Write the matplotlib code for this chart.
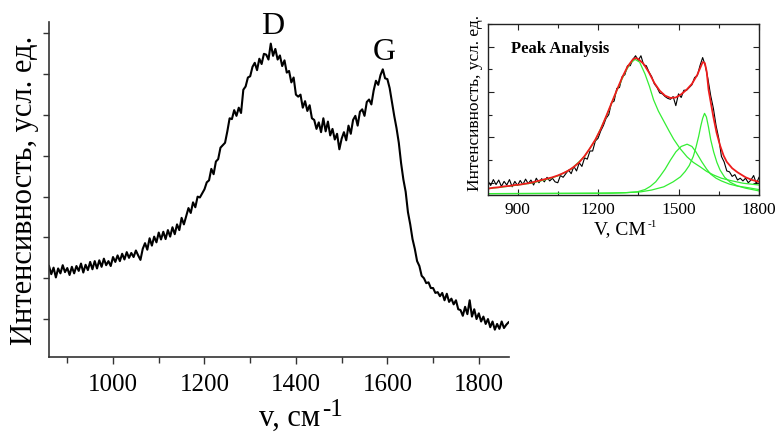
import numpy as np
import matplotlib
matplotlib.use("Agg")
import matplotlib.pyplot as plt
from matplotlib.ticker import MultipleLocator, FixedLocator

plt.rcParams['font.family'] = ['Liberation Serif', 'DejaVu Serif']

# ---------------- main spectrum ----------------
main_x = np.arange(860, 1870, 5)
main_y = [
    2.30, 2.10, 2.26, 2.02, 2.24, 2.12, 2.32, 2.15, 2.25, 2.08,
    2.28, 2.12, 2.30, 2.18, 2.36, 2.14, 2.33, 2.20, 2.40, 2.22,
    2.42, 2.24, 2.44, 2.28, 2.48, 2.32, 2.42, 2.30, 2.52, 2.40,
    2.56, 2.42, 2.60, 2.46, 2.64, 2.50, 2.62, 2.52, 2.68, 2.56,
    2.45, 2.72, 2.86, 2.70, 2.98, 2.80, 3.02, 2.88, 3.12, 2.95,
    3.14, 2.96, 3.18, 3.02, 3.25, 3.08, 3.32, 3.18, 3.48, 3.32,
    3.52, 3.72, 3.60, 3.86, 3.74, 4.00, 3.98, 4.08, 4.18, 4.35,
    4.40, 4.68, 4.55, 4.86, 4.92, 5.20, 5.26, 5.32, 5.60, 5.92,
    5.90, 6.12, 5.98, 6.18, 6.05, 6.62, 6.70, 6.92, 6.95, 7.18,
    7.28, 7.10, 7.38, 7.25, 7.50, 7.48, 7.36, 7.75, 7.45, 7.62,
    7.36, 7.46, 7.20, 7.34, 7.04, 7.08, 6.80, 6.92, 6.50, 6.45,
    6.50, 6.18, 6.34, 6.10, 6.24, 5.92, 5.88, 5.66, 5.82, 5.58,
    5.92, 5.60, 5.84, 5.50, 5.66, 5.40, 5.54, 5.16, 5.42, 5.58,
    5.38, 5.74, 5.54, 5.88, 5.98, 5.74, 6.08, 6.14, 5.98, 6.32,
    6.38, 6.26, 6.60, 6.84, 6.74, 6.98, 7.12, 6.90, 6.88, 6.66,
    6.32, 5.98, 5.68, 5.32, 4.82, 4.42, 4.12, 3.62, 3.32, 2.96,
    2.72, 2.42, 2.30, 2.06, 2.00, 1.88, 1.90, 1.76, 1.76, 1.64,
    1.66, 1.56, 1.64, 1.46, 1.62, 1.42, 1.50, 1.36, 1.46, 1.24,
    1.22, 1.08, 1.30, 1.12, 1.46, 1.06, 1.24, 1.00, 1.14, 0.94,
    1.06, 0.88, 1.00, 0.80, 0.94, 0.74, 0.88, 0.76, 0.94, 0.78, 0.86, 0.92,
]
main_xticks = [1000, 1200, 1400, 1600, 1800]
main_yticks = [1, 2, 3, 4, 5, 6, 7, 8]
peak_labels = ["D", "G"]
peak_label_x = [1349, 1594]
peak_label_y = [8.16, 7.54]

# ---------------- inset: peak analysis ----------------
ins_x = np.arange(790, 1810, 10)
ins_y = [
    1.04, 0.94, 1.07, 0.96, 1.06, 0.92, 1.03, 0.95, 1.07, 0.91,
    1.03, 0.94, 1.05, 0.96, 1.08, 0.98, 1.06, 0.95, 1.10, 1.00,
    1.09, 1.02, 1.12, 1.04, 1.10, 1.02, 1.00, 1.16, 1.12, 1.20,
    1.28, 1.20, 1.36, 1.26, 1.44, 1.36, 1.55, 1.52, 1.70, 1.70,
    1.92, 1.98, 2.14, 2.26, 2.42, 2.50, 2.76, 2.80, 3.08, 3.10,
    3.34, 3.38, 3.58, 3.58, 3.72, 3.80, 3.70, 3.80, 3.60, 3.58,
    3.44, 3.34, 3.18, 3.10, 2.98, 2.96, 2.90, 2.86, 2.84, 2.90,
    2.70, 2.96, 2.88, 3.04, 3.04, 3.10, 3.16, 3.32, 3.36, 3.58,
    3.76, 3.58, 3.28, 2.92, 2.64, 2.26, 1.98, 1.58, 1.46, 1.26,
    1.24, 1.14, 1.18, 1.06, 1.10, 1.04, 1.10, 1.00, 1.06, 1.16,
    0.98, 1.12,
]
fit_x = [790, 810, 830, 850, 870, 890, 910, 930, 950, 970, 990, 1010, 1030,
         1050, 1070, 1090, 1110, 1130, 1150, 1170, 1190, 1210, 1230, 1250,
         1270, 1290, 1310, 1330, 1340, 1350, 1370, 1390, 1410, 1430, 1450,
         1470, 1490, 1510, 1530, 1550, 1570, 1580, 1590, 1598, 1605, 1612,
         1620, 1630, 1642, 1655, 1668, 1680, 1700, 1720, 1750, 1775, 1800]
fit_y = [0.87, 0.89, 0.90, 0.92, 0.93, 0.95, 0.96, 0.98, 1.00, 1.03, 1.06,
         1.09, 1.12, 1.16, 1.21, 1.27, 1.35, 1.45, 1.59, 1.76, 1.95, 2.18,
         2.46, 2.75, 3.04, 3.32, 3.56, 3.72, 3.75, 3.73, 3.62, 3.43, 3.20,
         3.03, 2.92, 2.87, 2.88, 2.95, 3.05, 3.18, 3.38, 3.52, 3.66, 3.64,
         3.45, 3.05, 2.78, 2.45, 2.10, 1.82, 1.60, 1.46, 1.32, 1.23, 1.12,
         1.06, 1.02]
d_x = [790, 850, 900, 950, 1000, 1050, 1100, 1150, 1190, 1230, 1270, 1300,
       1320, 1338, 1355, 1375, 1392, 1407, 1425, 1445, 1465, 1482, 1505,
       1532, 1555, 1581, 1605, 1631, 1660, 1693, 1740, 1800]
d_y = [0.87, 0.91, 0.95, 0.99, 1.06, 1.15, 1.30, 1.58, 1.94, 2.45, 3.03,
       3.42, 3.63, 3.72, 3.66, 3.40, 3.12, 2.83, 2.58, 2.36, 2.14, 1.96,
       1.76, 1.57, 1.45, 1.35, 1.25, 1.17, 1.10, 1.05, 0.99, 0.95]
d3_x = [790, 1100, 1250, 1300, 1346, 1375, 1395, 1415, 1432, 1450, 1470,
        1490, 1510, 1532, 1550, 1565, 1587, 1605, 1620, 1640, 1660, 1690,
        1717, 1760, 1800]
d3_y = [0.76, 0.765, 0.77, 0.78, 0.80, 0.85, 0.92, 1.02, 1.15, 1.30, 1.50,
        1.68, 1.80, 1.85, 1.80, 1.68, 1.46, 1.30, 1.19, 1.10, 1.04, 0.97,
        0.93, 0.89, 0.85]
g_x = [790, 1000, 1200, 1300, 1360, 1400, 1445, 1480, 1507, 1525, 1540,
       1555, 1565, 1575, 1583, 1590, 1597, 1604, 1612, 1620, 1631, 1643,
       1655, 1672, 1693, 1720, 1750, 1800]
g_y = [0.76, 0.765, 0.77, 0.78, 0.80, 0.84, 0.91, 1.02, 1.13, 1.25, 1.38,
       1.58, 1.78, 2.02, 2.25, 2.42, 2.53, 2.45, 2.22, 1.95, 1.68, 1.45,
       1.28, 1.12, 1.01, 0.93, 0.88, 0.82]
ins_xticks = [900, 1200, 1500, 1800]
ins_yticks = [1, 2, 3, 4]

ylabel_text = "Интенсивность, усл. ед."

# ---------------- figure ----------------
fig = plt.figure(figsize=(7.76, 4.36), dpi=100)

ax = fig.add_axes([49/776, 1-357/436, 460/776, 335/436])
ax.plot(main_x, main_y, color='black', lw=1.5)
ax.set_xlim(860, 1866)
ax.set_ylim(0.07, 8.28)
ax.spines['top'].set_visible(False)
ax.spines['right'].set_visible(False)
for s in ('left', 'bottom'):
    ax.spines[s].set_color('#333333')
    ax.spines[s].set_linewidth(1.2)
ax.xaxis.set_major_locator(FixedLocator(main_xticks))
ax.xaxis.set_minor_locator(MultipleLocator(200, offset=100))
ax.yaxis.set_major_locator(FixedLocator(main_yticks))
ax.set_yticklabels([])
ax.tick_params(axis='x', which='major', direction='out', length=5, width=1,
               color='#333333', labelsize=18, pad=7)
ax.tick_params(axis='x', which='minor', direction='out', length=4, width=1,
               color='#333333')
ax.tick_params(axis='y', which='major', direction='out', length=4, width=1,
               color='#333333')
for lab, lx, ly in zip(peak_labels, peak_label_x, peak_label_y):
    ax.text(lx, ly, lab, fontsize=23, ha='center', va='center')

fig.text(25/776, 1-190/436, ylabel_text, rotation=90, fontsize=22,
         ha='center', va='center')
xl = fig.text(290/776, 1-418/436, "v, см", fontsize=22,
              ha='center', va='center')
ax.annotate("-1", xy=(1.0, 1.0), xycoords=xl, xytext=(1, 3),
            textcoords='offset points', fontsize=18, ha='left', va='top',
            annotation_clip=False)

# inset
ai = fig.add_axes([488/776, 1-195/436, 271/776, 171/436])
ai.plot(ins_x, ins_y, color='black', lw=0.8)
ai.plot(g_x, g_y, color='#33ee33', lw=0.9)
ai.plot(d3_x, d3_y, color='#33ee33', lw=0.9)
ai.plot(d_x, d_y, color='#33ee33', lw=0.9)
ai.plot(fit_x, fit_y, color='#ee1c1c', lw=1.3)
ai.set_xlim(790, 1800)
ai.set_ylim(0.73, 4.5)
for s in ai.spines.values():
    s.set_linewidth(1.0)
    s.set_color('#222222')
ai.xaxis.set_major_locator(FixedLocator(ins_xticks))
ai.xaxis.set_minor_locator(MultipleLocator(300, offset=150))
ai.yaxis.set_major_locator(FixedLocator(ins_yticks))
ai.yaxis.set_minor_locator(MultipleLocator(1.0, offset=0.5))
ai.set_yticklabels([])
ai.tick_params(which='both', direction='in', top=True, right=True, width=0.8,
               color='#222222')
ai.tick_params(which='major', length=4)
ai.tick_params(which='minor', length=3)
ai.tick_params(axis='x', labelsize=12.5, pad=5)
ai.text(0.085, 0.855, "Peak Analysis", transform=ai.transAxes, fontsize=12,
        fontweight='bold', ha='left', va='center')
fig.text(475/776, 1-103/436, ylabel_text, rotation=90, fontsize=12.5,
         ha='center', va='center')
ixl = fig.text(620/776, 1-230/436, "V, СМ", fontsize=14,
               ha='center', va='center')
ai.annotate("-1", xy=(1.0, 0.55), xycoords=ixl, xytext=(1, 0),
            textcoords='offset points', fontsize=8, ha='left', va='bottom',
            annotation_clip=False)

fig.savefig("out.png", dpi=100)
